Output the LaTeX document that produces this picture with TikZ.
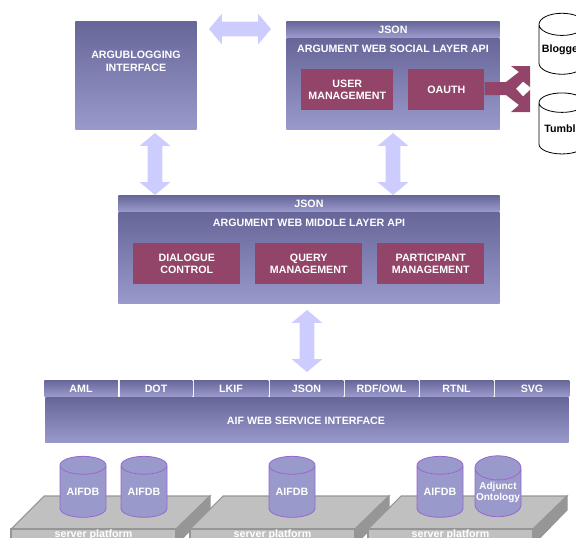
\documentclass[tikz,border=0pt]{standalone}
\usepackage{fontspec}
\setmainfont{Liberation Sans}
\usetikzlibrary{shapes.geometric,shapes.arrows}
\definecolor{bluetop}{HTML}{666699}
\definecolor{bluebot}{HTML}{9999CC}
\definecolor{wine}{HTML}{934569}
\definecolor{paleblue}{HTML}{CCCCFF}
\definecolor{lilac}{HTML}{9966CC}
\definecolor{plate}{HTML}{C0C0C0}
\definecolor{plateside}{HTML}{969696}
\tikzset{
  labelfont/.style={font=\bfseries\fontsize{8}{9.5}\selectfont},
  layer/.style={rectangle,inner sep=0pt,top color=bluetop,bottom color=bluebot,
    text=white,labelfont,align=center,anchor=north west},
  strip/.style={layer,minimum height=12pt,text height=5.7pt,text depth=0pt},
  layertext/.style={text=white,labelfont,align=center},
  winebox/.style={rectangle,inner sep=0pt,fill=wine,text=white,labelfont,align=center,anchor=north west},
  swap/.style={shape=double arrow,fill=paleblue,inner sep=5.25pt,minimum width=22.5pt,
    minimum height=46.5pt,double arrow head extend=6pt,double arrow tip angle=100},
  store/.style={shape=cylinder,shape border rotate=90,aspect=.55,draw=lilac,line width=.6pt,
    cylinder uses custom fill,cylinder body fill=bluebot,cylinder end fill=bluebot,
    minimum width=34.5pt,minimum height=45.75pt,inner sep=0pt,text=white,align=center,labelfont},
  blog/.style={shape=cylinder,shape border rotate=90,aspect=.55,draw=black,line width=.6pt,
    fill=white,minimum width=34.5pt,minimum height=45.75pt,inner sep=0pt,labelfont}
}
\begin{document}
\begin{tikzpicture}[x=.75pt,y=-.75pt]
\useasboundingbox (0,0) rectangle (576,537);
% top row
\node[layer,minimum width=91pt,minimum height=81.25pt] (argu) at (75,21) {};
\node[layertext] (argutext) at (136,61.5) {ARGUBLOGGING\\INTERFACE};
\node[strip,minimum width=160pt] (sjson) at (286,21) {JSON};
\node[layer,minimum width=160pt,minimum height=68.5pt] (social) at (286,38) {};
\node[layertext] (socialtext) at (393,48.5) {ARGUMENT WEB SOCIAL LAYER API};
\node[winebox,minimum width=69pt,minimum height=30.75pt] (user) at (301,69) {USER\\MANAGEMENT};
\node[winebox,minimum width=57pt,minimum height=30.75pt] (oauth) at (408,69) {OAUTH};
\fill[wine] (oauth.east|-0,82)--(506,82)--(519,72)--(511,66)--(530,66)--(530,87)--(523,81.5)
  --(516,88.7)--(523,96.5)--(530,90)--(530,112)--(511,112)--(519,105)--(506,95)--(oauth.east|-0,95)--cycle;
\node[blog] (blogger) at (562,49.5) {Blogger};
\node[blog] (tumblr) at (562,128.5) {Tumblr};
\node[swap] (a1) at (240,29) {};
\node[swap,rotate=90] (a2) at (155,164) {};
\node[swap,rotate=90] (a3) at (393,164) {};
\node[swap,rotate=90] (a4) at (307,341) {};
% middle layer
\node[strip,minimum width=286pt] (mjson) at (118,195) {JSON};
\node[layer,minimum width=286pt,minimum height=68.5pt] (middle) at (118,212) {};
\node[layertext] (middletext) at (309,222.5) {ARGUMENT WEB MIDDLE LAYER API};
\foreach \x/\n/\t in {133/dialogue/DIALOGUE\\CONTROL,255/query/QUERY\\MANAGEMENT,377/part/PARTICIPANT\\MANAGEMENT}
  \node[winebox,minimum width=80.25pt,minimum height=30.75pt] (\n) at (\x,243) {\t};
% formats
\foreach \x/\w/\t in {44/73.5/AML,119.5/72.5/DOT,193.5/74.5/LKIF,269.5/73.5/JSON,344.5/73.5/{RDF/OWL},419.5/73.5/RTNL,494.5/74.5/SVG}
  \node[strip,minimum width=\w*.75pt] (f\x) at (\x,380) {\t};
\node[layer,minimum width=392.5pt,minimum height=34pt] (aif) at (45,397) {};
\node[layertext] (aiftext) at (306,420.5) {AIF WEB SERVICE INTERFACE};
% platforms
\foreach \x/\n in {0/p,179/q,357/r}{
  \begin{scope}[xshift=\x*.75pt]
    \filldraw[fill=plate,draw=plateside,line width=.8pt] (44,496)--(210,496)--(176,529)--(11,529)--cycle;
    \filldraw[fill=plateside,draw=plateside,line width=.8pt] (210,496)--(210,510)--(176,545)--(176,529)--cycle;
    \filldraw[fill=plate,draw=plateside,line width=.8pt] (11,529) rectangle (176,550);
    \node[text=white,labelfont] (\n) at (93.5,535) {server platform};
  \end{scope}
}
% databases
\foreach \x/\n/\t in {83/db1/AIFDB,144/db2/AIFDB,292/db3/AIFDB,440/db4/AIFDB}
  \node[store] (\n) at (\x,491.5) {\t};
\node[store,font=\bfseries\fontsize{7.5}{8.5}\selectfont] (db5) at (498,492.5) {Adjunct\\Ontology};
\end{tikzpicture}
\end{document}
